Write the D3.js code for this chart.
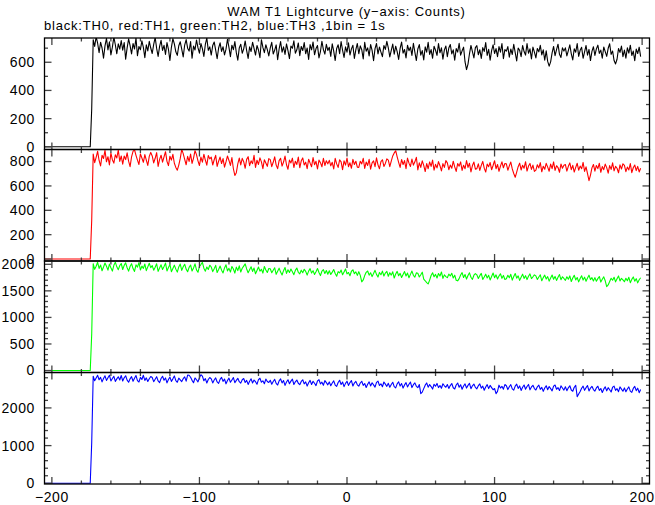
<!DOCTYPE html>
<html><head><meta charset="utf-8">
<script src="https://cdn.jsdelivr.net/npm/d3@7/dist/d3.min.js"></script>
<style>body{margin:0;background:#fff}svg{display:block}</style>
</head><body><svg id="c" width="655" height="505"></svg>
<script>
const titleText = "WAM T1 Lightcurve (y\u2212axis: Counts)";
const subtitleText = "black:TH0, red:TH1, green:TH2, blue:TH3 ,1bin = 1s";
const firstBin = -205;           // time of first 1 s bin
const xDomain = [-205, 205];
const xMajorTicks = [-200, -100, 0, 100, 200];
const xTickLabels = ["\u2212200", "\u2212100", "0", "100", "200"];
const xMinorStep = 20;
const seriesNames = ["TH0", "TH1", "TH2", "TH3"];
const seriesColors = ["#000000", "#ff0000", "#00ff00", "#0000ff"];
const yDomains = [[-19, 772], [-16, 899], [-37, 2062], [-19, 2940]];
const yMajorTicks = [[0, 200, 400, 600], [0, 200, 400, 600, 800], [0, 500, 1000, 1500, 2000], [0, 1000, 2000]];
const yMinorSteps = [100, 100, 100, 200];

const quietBins = [0,0,0,0,0,0,0,0,0,0,0,0,0,0,0,0,0,0,0,0,0,0,0,0,0,0,0,0,0,0,0,0];

const th0 = quietBins.concat([270,
760,712,781,735,668,742,701,629,716,770,688,745,652,707,779,724,660,731,693,754,
685,740,621,702,766,718,659,733,694,771,646,712,689,752,705,633,724,680,748,701,
662,727,776,698,641,713,755,684,720,655,739,692,612,706,768,731,674,649,717,745,
693,638,722,761,700,679,746,628,715,687,758,703,664,733,697,641,726,772,684,709,
651,719,744,686,625,701,738,677,710,652,693,763,706,640,721,689,746,668,615,702,
728,664,695,751,683,627,709,676,742,698,651,719,687,632,760,705,668,724,690,645,
702,741,659,686,723,618,694,747,672,709,655,730,683,626,715,699,752,664,688,737,
647,712,683,739,660,701,620,725,688,744,653,697,718,631,676,749,690,658,727,684,
706,642,731,679,612,698,724,661,747,685,634,709,672,738,651,695,720,627,689,733,
660,716,689,623,741,678,702,645,726,684,611,697,733,659,708,672,640,719,691,748,
702,638,685,729,657,714,676,620,698,743,665,690,631,721,682,707,649,735,671,612,
694,725,650,683,617,709,672,741,656,690,628,713,685,649,732,667,702,621,688,715,
640,701,726,659,688,614,697,672,735,650,681,707,602,548,587,660,719,676,631,704,
718,653,689,627,704,677,739,648,692,615,683,724,662,697,640,711,672,733,626,690,
679,711,636,694,655,727,668,609,701,684,640,719,676,651,733,664,695,624,707,672,
631,698,674,720,652,688,614,681,606,572,603,667,712,647,690,728,656,634,703,679,
702,645,683,724,660,617,696,671,733,642,685,706,628,674,719,650,691,612,677,710,
648,695,721,663,686,629,708,675,642,699,731,656,680,612,588,621,697,670,715,640,
686,629,703,665,721,648,679,611,694,662,707,640]);

const th1 = quietBins.concat([320,
862,791,835,884,809,764,851,826,892,798,840,773,869,815,787,856,830,895,801,846,
779,845,816,872,803,758,839,884,897,851,812,776,863,829,794,857,812,768,843,875,
846,789,827,873,760,818,852,795,838,881,802,767,844,812,859,786,752,729,771,826,
900,865,818,774,843,801,862,785,829,889,857,806,768,837,795,860,812,771,849,822,
836,772,815,851,760,803,837,784,824,754,797,846,809,768,832,741,686,709,781,829,
772,826,799,745,818,840,767,806,783,851,752,811,776,830,797,742,815,788,761,824,
816,758,794,839,771,742,808,827,763,796,845,774,737,812,789,828,751,803,776,837,
749,806,830,772,795,741,819,787,758,833,774,802,739,812,791,757,826,768,807,781,
810,765,794,739,826,781,752,815,797,734,806,771,829,758,790,745,818,776,803,754,
752,803,781,827,744,796,768,818,737,789,806,758,831,773,741,799,815,760,785,822,
812,758,804,846,871,889,839,794,752,817,776,808,741,829,787,760,820,771,798,835,
731,790,752,806,769,718,784,741,797,760,812,729,777,748,800,766,723,783,752,808,
789,733,771,745,803,756,719,784,762,797,728,770,741,808,752,786,715,767,796,738,
742,781,727,769,801,746,714,779,758,792,733,768,807,741,776,720,763,798,749,784,
781,729,765,796,740,702,671,714,758,787,731,770,746,799,722,763,785,736,771,719,
730,774,748,791,716,762,737,785,754,721,779,742,797,728,766,751,712,780,745,769,
775,722,761,789,734,769,714,752,786,729,763,741,793,719,757,701,643,689,748,776,
721,768,742,786,712,759,733,779,750,705,767,736,790,724,761,745,708,773,739,782,
768,717,755,731,784,709,749,772,726,760,715,745]);

const th2 = quietBins.concat([690,
2010,1905,1962,2038,1921,1987,1878,1949,2025,1963,1890,2003,1934,1872,1981,2040,1952,1898,1976,2015,
1902,1980,2028,1935,1871,1958,2012,1919,1866,1990,1947,2031,1893,1966,1924,2005,1880,1951,2019,1937,
1976,1889,1945,2010,1867,1931,1990,1902,1959,2022,1875,1938,1997,1861,1922,1984,1909,1853,1950,2004,
1886,1954,2001,1909,1860,1942,1987,1873,1931,2008,1895,1850,1962,1995,2035,1926,1871,1948,1902,1983,
1949,1862,1918,1980,1845,1901,1967,1889,1838,1932,1990,1876,1924,1854,1959,1911,1835,1947,1882,1970,
1854,1925,1966,2008,1912,1841,1897,1953,1866,1930,1822,1884,1948,1871,1906,1835,1959,1893,1846,1921,
1915,1840,1889,1934,1811,1868,1927,1853,1798,1880,1940,1829,1897,1846,1912,1861,1805,1886,1931,1850,
1821,1889,1842,1905,1866,1797,1872,1918,1835,1880,1809,1859,1921,1846,1788,1870,1899,1827,1884,1812,
1878,1809,1853,1901,1826,1775,1862,1838,1893,1802,1857,1913,1819,1846,1784,1869,1897,1823,1858,1791,
1861,1792,1670,1705,1788,1849,1873,1796,1840,1768,1825,1886,1810,1759,1847,1803,1872,1780,1834,1868,
1775,1842,1796,1859,1741,1818,1867,1785,1829,1752,1806,1863,1780,1835,1746,1810,1872,1793,1758,1838,
1830,1761,1804,1852,1719,1690,1655,1630,1702,1789,1841,1766,1810,1742,1827,1778,1856,1735,1801,1769,
1748,1815,1779,1832,1741,1796,1700,1688,1730,1797,1843,1751,1808,1722,1789,1839,1757,1716,1794,1825,
1802,1733,1786,1829,1715,1760,1814,1743,1792,1706,1771,1836,1748,1801,1724,1779,1822,1736,1790,1713,
1727,1793,1748,1811,1702,1769,1826,1740,1782,1697,1758,1815,1735,1786,1712,1774,1820,1731,1765,1801,
1781,1714,1762,1803,1690,1749,1796,1722,1768,1683,1741,1799,1718,1772,1697,1755,1806,1711,1764,1733,
1698,1766,1719,1781,1675,1742,1793,1706,1752,1669,1731,1785,1703,1758,1680,1740,1795,1712,1748,1686,
1749,1682,1730,1771,1665,1719,1764,1690,1580,1611,1676,1738,1700,1757,1669,1726,1781,1688,1735,1707,
1672,1738,1691,1755,1654,1716,1762,1683,1729,1650,1709,1747]);

const th3 = quietBins.concat([1080,
2840,2722,2795,2865,2748,2810,2691,2779,2852,2730,2803,2868,2716,2781,2839,2705,2770,2826,2742,2861,
2714,2799,2853,2736,2681,2772,2830,2707,2790,2859,2726,2688,2811,2754,2866,2731,2797,2702,2776,2835,
2806,2697,2763,2829,2715,2672,2781,2840,2733,2796,2665,2752,2818,2704,2771,2850,2724,2681,2790,2744,
2698,2776,2823,2710,2870,2866,2815,2732,2668,2795,2747,2690,2800,2880,2845,2721,2776,2662,2754,2808,
2773,2664,2741,2797,2689,2650,2756,2810,2705,2768,2639,2727,2791,2682,2743,2805,2670,2731,2785,2696,
2658,2747,2780,2675,2731,2624,2709,2772,2661,2738,2696,2627,2751,2788,2683,2720,2641,2766,2702,2674,
2733,2627,2701,2759,2652,2608,2717,2770,2664,2726,2598,2688,2747,2640,2711,2765,2622,2693,2740,2655,
2617,2702,2748,2639,2691,2580,2666,2731,2623,2705,2654,2592,2718,2749,2637,2684,2601,2726,2670,2612,
2690,2588,2662,2719,2607,2571,2676,2733,2620,2687,2565,2651,2709,2598,2673,2726,2581,2659,2704,2613,
2577,2661,2708,2598,2649,2543,2627,2691,2584,2667,2612,2552,2679,2710,2595,2640,2561,2688,2630,2572,
2652,2549,2623,2680,2565,2531,2637,2693,2580,2646,2526,2611,2670,2557,2628,2686,2540,2618,2665,2574,
2536,2620,2380,2420,2512,2604,2663,2551,2619,2567,2500,2628,2574,2651,2540,2596,2523,2642,2587,2549,
2621,2518,2592,2648,2535,2501,2607,2662,2550,2615,2495,2581,2639,2527,2598,2654,2511,2587,2633,2545,
2506,2590,2636,2524,2577,2470,2556,2619,2513,2597,2540,2482,2515,2380,2440,2604,2528,2573,2497,2620,
2590,2487,2561,2617,2505,2471,2577,2631,2519,2584,2465,2550,2608,2496,2568,2623,2480,2557,2601,2514,
2476,2560,2605,2493,2546,2440,2527,2589,2482,2567,2511,2452,2578,2608,2495,2540,2461,2586,2530,2472,
2561,2458,2533,2589,2476,2442,2547,2601,2300,2370,2436,2521,2579,2467,2538,2594,2450,2527,2573,2488,
2447,2530,2576,2464,2516,2411,2498,2560,2453,2537,2482,2423,2549,2578,2466,2511,2432,2557,2500,2443,
2531,2428,2502,2558,2446,2413,2517,2571,2459,2524,2405,2489]);

const seriesData = [th0, th1, th2, th3];

// ---------- layout ----------
const plotLeft = 44.5, plotRight = 649.5, plotTop = 38, panelH = 111.5;
const fontFam = "'Liberation Sans', Arial, Helvetica, sans-serif";
const svg = d3.select("#c");

svg.append("text").attr("x", 346.5).attr("y", 16).attr("text-anchor", "middle")
  .attr("font-family", fontFam).attr("font-size", 13).attr("letter-spacing", 0.8)
  .attr("fill", "#000").text(titleText);
svg.append("text").attr("x", 44).attr("y", 30).attr("text-anchor", "start")
  .attr("font-family", fontFam).attr("font-size", 13).attr("letter-spacing", 0.8)
  .attr("fill", "#000").text(subtitleText);

const x = d3.scaleLinear().domain(xDomain).range([plotLeft, plotRight]);
const xMinor = d3.range(Math.ceil(xDomain[0] / xMinorStep) * xMinorStep, xDomain[1] + 0.01, xMinorStep)
  .filter(v => xMajorTicks.indexOf(v) < 0);

const majLen = 7, minLen = 3.5, tickColor = "#444";

seriesData.forEach((vals, i) => {
  const y0 = plotTop + i * panelH, y1 = y0 + panelH;
  const y = d3.scaleLinear().domain(yDomains[i]).range([y1, y0]);
  const g = svg.append("g");
  const clipId = "clip" + i;
  svg.append("clipPath").attr("id", clipId).append("rect")
    .attr("x", plotLeft).attr("y", y0).attr("width", plotRight - plotLeft).attr("height", panelH);

  const pts = vals.map((v, k) => [firstBin + k, v]);
  g.append("path").datum(pts)
    .attr("clip-path", "url(#" + clipId + ")")
    .attr("fill", "none").attr("stroke", seriesColors[i]).attr("stroke-width", 1.1)
    .attr("stroke-linejoin", "round")
    .attr("d", d3.line().x(d => x(d[0])).y(d => y(d[1])));

  const dom = yDomains[i];
  const st = yMinorSteps[i];
  const yMinor = d3.range(Math.ceil(dom[0] / st) * st, dom[1], st).filter(v => yMajorTicks[i].indexOf(v) < 0);
  const tk = g.append("g").attr("stroke", tickColor).attr("stroke-width", 1.3);
  yMajorTicks[i].forEach(v => {
    tk.append("line").attr("x1", plotLeft).attr("x2", plotLeft + majLen).attr("y1", y(v)).attr("y2", y(v));
    tk.append("line").attr("x1", plotRight).attr("x2", plotRight - majLen).attr("y1", y(v)).attr("y2", y(v));
  });
  yMinor.forEach(v => {
    tk.append("line").attr("x1", plotLeft).attr("x2", plotLeft + minLen).attr("y1", y(v)).attr("y2", y(v));
    tk.append("line").attr("x1", plotRight).attr("x2", plotRight - minLen).attr("y1", y(v)).attr("y2", y(v));
  });
  xMajorTicks.forEach(v => {
    tk.append("line").attr("x1", x(v)).attr("x2", x(v)).attr("y1", y1).attr("y2", y1 - majLen);
    tk.append("line").attr("x1", x(v)).attr("x2", x(v)).attr("y1", y0).attr("y2", y0 + majLen);
  });
  xMinor.forEach(v => {
    tk.append("line").attr("x1", x(v)).attr("x2", x(v)).attr("y1", y1).attr("y2", y1 - minLen);
    tk.append("line").attr("x1", x(v)).attr("x2", x(v)).attr("y1", y0).attr("y2", y0 + minLen);
  });

  yMajorTicks[i].forEach(v => {
    g.append("text").attr("x", 35).attr("y", y(v)).attr("dy", "0.35em")
      .attr("text-anchor", "end").attr("font-family", fontFam).attr("font-size", 14)
      .attr("letter-spacing", 0.6).attr("fill", "#000").text(String(v));
  });

  g.append("rect").attr("x", plotLeft).attr("y", y0).attr("width", plotRight - plotLeft).attr("height", panelH)
    .attr("fill", "none").attr("stroke", "#000").attr("stroke-width", 1.3);

  if (i === seriesData.length - 1) {
    xMajorTicks.forEach((v, k) => {
      g.append("text").attr("x", x(v)).attr("y", 497).attr("dy", "0.35em")
        .attr("text-anchor", "middle").attr("font-family", fontFam).attr("font-size", 14)
        .attr("letter-spacing", 0.6).attr("fill", "#000").text(xTickLabels[k]);
    });
  }
});
</script>
</body></html>
